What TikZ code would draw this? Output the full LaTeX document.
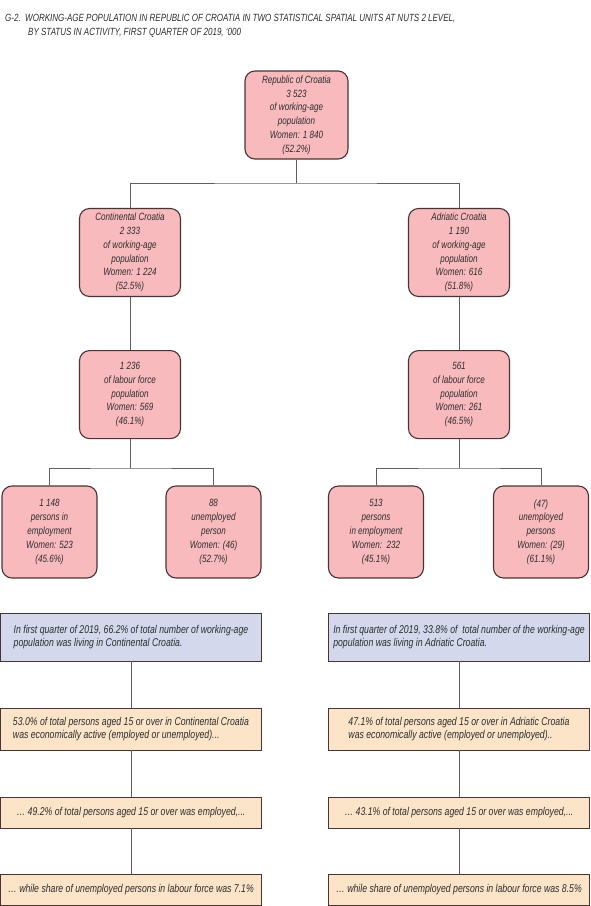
\documentclass[tikz,border=0pt]{standalone}
\usepackage{fontspec}
\setmainfont{Liberation Sans}[FakeStretch=0.77]
\usetikzlibrary{positioning}
\definecolor{boxpink}{RGB}{249,186,190}
\definecolor{boxblue}{RGB}{211,216,236}
\definecolor{boxsand}{RGB}{252,228,200}
\definecolor{edgedark}{RGB}{72,52,52}
\definecolor{linkgray}{RGB}{95,95,95}
\definecolor{txtgray}{RGB}{45,45,45}

\begin{document}
\begin{tikzpicture}[x=1pt,y=1pt,
  pbox/.style={rectangle,rounded corners=10pt,draw=edgedark,line width=1.1pt,
               fill=boxpink,minimum width=101pt,minimum height=88pt,inner sep=0pt,
               align=center,text=txtgray,font=\fontsize{10.5}{13.8}\selectfont\itshape},
  sbox/.style={pbox,minimum width=95pt,minimum height=92pt},
  ibox/.style={rectangle,draw=edgedark,line width=0.9pt,fill=boxblue,
               minimum width=261pt,minimum height=48pt,inner sep=0pt,
               align=left,text=txtgray,font=\fontsize{11.3}{12.4}\selectfont\itshape},
  nbox/.style={ibox,fill=boxsand,minimum height=31pt},
  ttl/.style={anchor=base west,inner sep=0pt,text=txtgray,font=\fontsize{10.4}{13}\selectfont\itshape},
  ln/.style={draw=linkgray,line width=0.8pt},
]
\useasboundingbox (0,0) rectangle (591,-906);

% title
\node[ttl] (t1) at (5,-21) {G-2.\ \ WORKING-AGE POPULATION IN REPUBLIC OF CROATIA IN TWO STATISTICAL SPATIAL UNITS AT NUTS 2 LEVEL,};
\node[ttl] (t2) at (28,-35) {BY STATUS IN ACTIVITY, FIRST QUARTER OF 2019, `000};

% tree of pink boxes
\node[pbox,minimum width=103pt] (root) at (296.5,-115) {Republic of Croatia\\3 523\\of working-age\\population\\Women: 1 840\\(52.2\%)};
\node[pbox] (cont) at (130,-252.5) {Continental Croatia\\2 333\\of working-age\\population\\Women: 1 224\\(52.5\%)};
\node[pbox] (adr) at (459,-252.5) {Adriatic Croatia\\1 190\\of working-age\\population\\Women: 616\\(51.8\%)};
\node[pbox,below=53pt of cont] (lab1) {1 236\\of labour force\\population\\Women: 569\\(46.1\%)};
\node[pbox,below=53pt of adr] (lab2) {561\\of labour force\\population\\Women: 261\\(46.5\%)};

\node[sbox] (emp1) at (49.5,-532) {1 148\\persons in\\employment\\Women: 523\\(45.6\%)};
\node[sbox] (unemp1) at (213.5,-532) {88\\unemployed\\person\\Women: (46)\\(52.7\%)};
\node[sbox] (emp2) at (376,-532) {513\\persons\\in employment\\Women:\ \ 232\\(45.1\%)};
\node[sbox] (unemp2) at (541,-532) {(47)\\unemployed\\persons\\Women: (29)\\(61.1\%)};

\coordinate (rj) at (296.5,-183);
\coordinate (lj1) at (130,-468);
\coordinate (lj2) at (459,-468);

\draw[ln] (root) -- (rj);
\draw[ln] (cont.north) |- (rj) -| (adr.north);
\draw[ln] (cont) -- (lab1);
\draw[ln] (adr) -- (lab2);
\draw[ln] (lab1) -- (lj1);
\draw[ln] (lab2) -- (lj2);
\draw[ln] (emp1.north) |- (lj1) -| (unemp1.north);
\draw[ln] (emp2.north) |- (lj2) -| (unemp2.north);

% notes below
\node[ibox] (info1) at (131,-637) {In first quarter of 2019, 66.2\% of total number of working-age\\population was living in Continental Croatia.};
\node[ibox] (info2) at (459,-637) {In first quarter of 2019, 33.8\% of\ \ total number of the working-age\\population was living in Adriatic Croatia.};

\node[nbox,minimum height=42pt] (act1) at (131,-729) {53.0\% of total persons aged 15 or over in Continental Croatia\\was economically active (employed or unemployed)...};
\node[nbox,minimum height=42pt] (act2) at (459,-729) {47.1\% of total persons aged 15 or over in Adriatic Croatia\\was economically active (employed or unemployed)..};
\node[nbox] (job1) at (131,-812.5) {… 49.2\% of total persons aged 15 or over was employed,...};
\node[nbox] (job2) at (459,-812.5) {… 43.1\% of total persons aged 15 or over was employed,...};
\node[nbox] (share1) at (131,-889.5) {… while share of unemployed persons in labour force was 7.1\%};
\node[nbox] (share2) at (459,-889.5) {… while share of unemployed persons in labour force was 8.5\%};

\foreach \a/\b in {info1/act1,act1/job1,job1/share1,info2/act2,act2/job2,job2/share2}{
  \draw[ln] (\a) -- (\b);
}
\end{tikzpicture}
\end{document}
